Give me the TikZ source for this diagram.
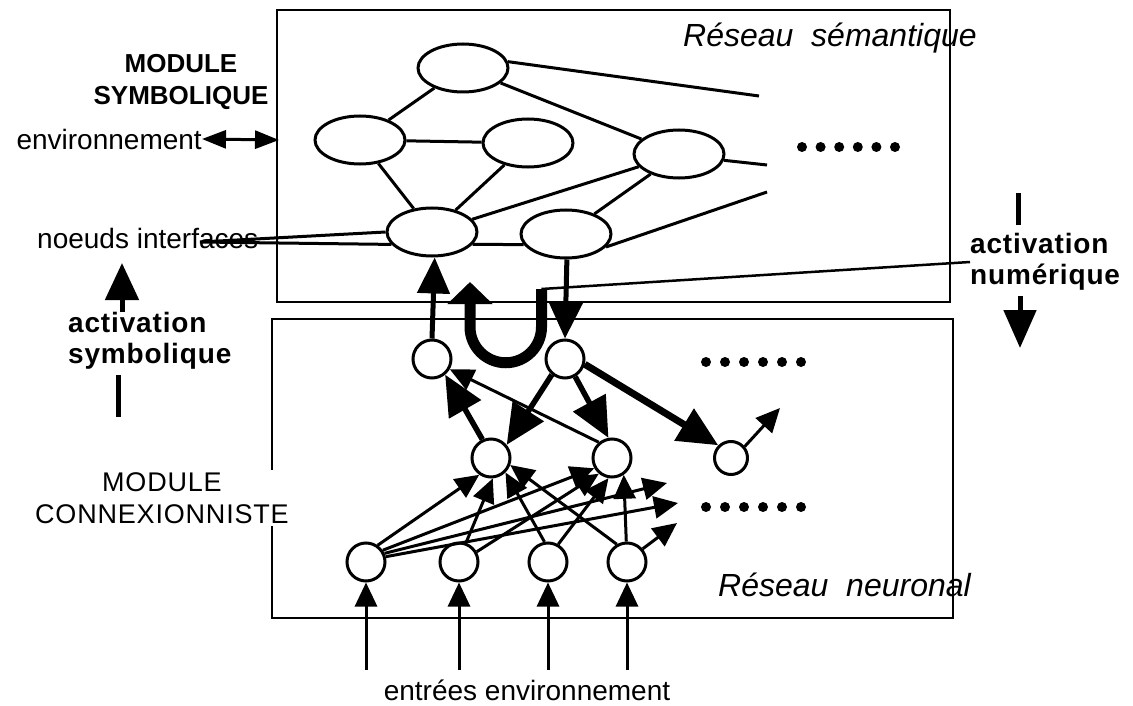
\documentclass[tikz,border=0pt]{standalone}
\usepackage{fontspec}
\setmainfont{Liberation Sans}
\newfontfamily\modfont[LetterSpace=3]{Liberation Sans}
\usetikzlibrary{arrows.meta,shapes.geometric}

\begin{document}
\begin{tikzpicture}[x=1pt,y=-1pt,
      concept/.style={ellipse,draw,line width=3pt,minimum width=90pt,minimum height=48pt,inner sep=0pt},
      unit/.style={circle,draw,line width=3pt,minimum size=38pt,inner sep=0pt},
      link/.style={line width=3pt},
      syn/.style={line width=3pt,-{Triangle[length=24pt,width=22pt]}},
      strong/.style={line width=5.5pt,-{Triangle[length=40pt,width=36pt]}},
      txt/.style={font=\fontsize{28}{32}\selectfont,inner sep=0pt},
      modlbl/.style={font=\modfont\fontsize{27}{32}\selectfont,align=center,fill=white,inner sep=2pt},
      modbold/.style={modlbl,font=\bfseries\fontsize{26}{32}\selectfont},
      actlbl/.style={font=\modfont\bfseries\fontsize{28}{31}\selectfont,align=left,inner sep=0pt},
      netlbl/.style={font=\itshape\fontsize{32}{36}\selectfont,inner sep=0pt}]
                              \useasboundingbox (0,0) rectangle (1133,706);

                              % Modules
                              \draw[line width=2.5pt] (277,10) rectangle (950,302);
                              \draw[line width=2.5pt] (272,319) rectangle (953,618);
                              \node[netlbl,anchor=west] (sem) at (683,38) {Réseau~~sémantique};
                              \node[netlbl,anchor=west] (neur) at (718,585) {Réseau~~neuronal};
                              \node[modbold] (msym) at (181,82) {MODULE\\SYMBOLIQUE};
                              \node[modlbl] (mcon) at (162,498) {MODULE\\CONNEXIONNISTE};

                              % Semantic network
                              \node[concept] (e1) at (463,68) {};
                              \node[concept] (e2) at (360,140) {};
                              \node[concept] (e3) at (528,143) {};
                              \node[concept] (e4) at (679,154) {};
                              \node[concept] (e5) at (432,232) {};
                              \node[concept] (e6) at (566,234) {};
                              \coordinate (t1) at (759,96);
                              \coordinate (t2) at (767,165);
                              \coordinate (t3) at (767,192);
                              \draw[link] (e1) -- (e2) (e1) -- (e4) (e2) -- (e3) (e2) -- (e5)
                                    (e3) -- (e5) (e4) -- (e5) (e4) -- (e6) (e5.-17) -- (e6.-166);
                              \draw[link] (e1.8) -- (t1) (e4.-8) -- (t2) (e6.-18) -- (t3);
                              \foreach \k in {0,...,5}
                                    \fill ({802+18.6*\k},147) circle[radius=5pt];

                              % Environment and interface nodes
                              \node[txt,anchor=east] (env) at (202,139) {environnement};
                              \coordinate (envb) at (279,140);
                              \draw[link,{Triangle[length=24pt,width=18pt]}-{Triangle[length=24pt,width=18pt]}]
                                    (env.east) -- (envb);
                              \node[txt,anchor=west] (nif) at (37,238) {noeuds interfaces};
                              \coordinate (nistart) at (200,242);
                              \draw[link] (nistart) -- (e5.west) (nistart) -- (e5.-163);

                              % Activation labels
                              \node[actlbl,anchor=west] (actsym) at (68,341) {activation\\symbolique};
                              \coordinate (symtip) at (122,263);
                              \coordinate (symbar) at (118,417);
                              \draw[line width=5pt,-{Triangle[length=37pt,width=33pt]}]
                                    (actsym.north -| symtip) -- (symtip);
                              \draw[line width=5pt] (actsym.south -| symbar) ++(0,5) -- (symbar);
                              \node[actlbl,anchor=west] (actnum) at (970,262) {activation\\numérique};
                              \coordinate (numbar) at (1018,193);
                              \coordinate (numtip) at (1020,348);
                              \draw[line width=5pt] (actnum.north -| numbar) ++(0,-8) -- (numbar);
                              \draw[line width=5pt,-{Triangle[length=38pt,width=32pt]}]
                                    (actnum.south -| numtip) ++(0,5) -- (numtip);

                              % U-turn between the modules
                              \draw[line width=11pt,-{Triangle[length=22pt,width=44pt]}]
                                    (541.5,289) coordinate (utop) -- (541.5,327)
                                    arc[start angle=0,end angle=-180,radius=35.75pt] -- (470,282);
                              \draw[line width=2.5pt] (utop) -- (actnum.west);

                              % Neural network
                              \node[unit] (n1) at (432,359) {};
                              \node[unit] (n2) at (565,359) {};
                              \node[unit] (n3) at (491,458) {};
                              \node[unit] (n4) at (612,458) {};
                              \node[unit,minimum size=33pt] (n5) at (731,458) {};
                              \node[unit] (i1) at (366,562) {};
                              \node[unit] (i2) at (459,562) {};
                              \node[unit] (i3) at (548,562) {};
                              \node[unit] (i4) at (627,562) {};

                              \draw[line width=5pt,-{Triangle[length=36pt,width=32pt]}] (n1.north) -- (e5.-84);
                              \draw[line width=5pt,-{Triangle[length=36pt,width=33pt]}] (e6.-88) -- (n2.north);

                              \coordinate (o1) at (780,408);
                              \draw[strong] (n3.115) -- (n1.-50);
                              \draw[strong] (n2.-130) -- (n3.40);
                              \draw[strong] (n2.-60) -- (n4.100);
                              \draw[strong,line width=7pt] (n2.-15) -- (n5.135);
                              \draw[syn] (n4.130) -- (n1.-30);
                              \draw[syn] (n5.40) -- (o1);

                              \coordinate (f1) at (667,483);
                              \coordinate (f2) at (678,503);
                              \coordinate (f3) at (677,523);
                              \draw[syn] (i1.55) -- (n3.-125);
                              \draw[syn] (i1.35) -- (n4.-150);
                              \draw[syn] (i1.25) -- (f1);
                              \draw[syn] (i1.15) -- (f2);
                              \draw[syn] (i2.70) -- (n3.-85);
                              \draw[syn] (i2.30) -- (n4.-130);
                              \draw[syn] (i3.100) -- (n3.-45);
                              \draw[syn] (i3.60) -- (n4.-100);
                              \draw[syn] (i4.120) -- (n3.-20);
                              \draw[syn] (i4.92) -- (n4.-55);
                              \draw[syn] (i4.40) -- (f3);
                              \foreach \k in {0,...,5} {
                                    \fill ({706+19*\k},362) circle[radius=5pt];
                                    \fill ({706+19*\k},507) circle[radius=5pt];
                              }

                              % Inputs
                              \foreach \i/\x in {1/366,2/459,3/548,4/627}
                                    \draw[line width=3pt,-{Triangle[length=24pt,width=22pt]}]
                                          (\x,670) coordinate (in\i) -- (i\i.south);
                              \node[txt] (inp) at (527,690) {entrées environnement};
                        \end{tikzpicture}
\end{document}
